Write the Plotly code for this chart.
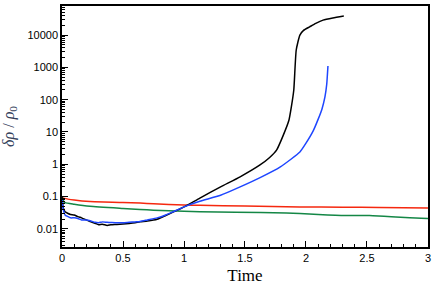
import plotly.graph_objects as go

# --- data ---
red_t = [0, 0.02, 0.1, 0.23, 0.5, 0.64, 0.75, 1.0, 1.13, 1.5, 1.95, 2.3, 2.6, 3.0]
red_v = [0.095, 0.088, 0.078, 0.07, 0.066, 0.063, 0.06, 0.055, 0.054, 0.051, 0.048, 0.047, 0.046, 0.044]

green_t = [0, 0.01, 0.025, 0.1, 0.23, 0.5, 0.64, 0.75, 1.0, 1.13, 1.42, 1.84, 1.95, 2.1, 2.32, 2.52, 2.7, 2.85, 3.0]
green_v = [0.1, 0.075, 0.065, 0.058, 0.05, 0.043, 0.04, 0.038, 0.035, 0.034, 0.033, 0.031, 0.030, 0.028,
           0.026, 0.026, 0.024, 0.022, 0.021]

black_t = [0, 0.01, 0.025, 0.05, 0.07, 0.1, 0.13, 0.16, 0.2, 0.23, 0.27, 0.3, 0.33, 0.37, 0.4, 0.45,
           0.5, 0.55, 0.6, 0.64, 0.7, 0.78, 0.85, 0.91, 1.01, 1.13, 1.3, 1.46, 1.62, 1.7, 1.76, 1.81,
           1.86, 1.88, 1.9, 1.92, 1.95, 1.98, 2.03, 2.08, 2.14, 2.22, 2.31]
black_v = [0.1, 0.045, 0.034, 0.03, 0.028, 0.027, 0.024, 0.022, 0.019, 0.017, 0.015, 0.0135, 0.014,
           0.0128, 0.0134, 0.0138, 0.0143, 0.0148, 0.0155, 0.0165, 0.0175, 0.02, 0.026, 0.033, 0.05,
           0.09, 0.2, 0.41, 0.94, 1.6, 2.8, 7.3, 23, 60, 200, 3450, 10000, 14000, 18000, 23000, 29000,
           34000, 39000]

blue_t = [0, 0.01, 0.025, 0.05, 0.07, 0.1, 0.13, 0.16, 0.2, 0.23, 0.27, 0.3, 0.33, 0.37, 0.4, 0.45,
          0.5, 0.55, 0.6, 0.64, 0.7, 0.78, 0.85, 0.91, 1.01, 1.13, 1.3, 1.46, 1.62, 1.79, 1.95, 2.0,
          2.06, 2.1, 2.13, 2.155, 2.17, 2.18]
blue_v = [0.09, 0.04, 0.027, 0.024, 0.022, 0.022, 0.021, 0.019, 0.019, 0.018, 0.016, 0.0155, 0.0165,
          0.016, 0.0158, 0.0155, 0.0155, 0.016, 0.0165, 0.017, 0.019, 0.022, 0.027, 0.034, 0.05, 0.072,
          0.11, 0.2, 0.38, 0.83, 2.4, 4.5, 11, 25, 50, 120, 300, 1100]

y_tickvals = [0.01, 0.1, 1, 10, 100, 1000, 10000]
y_ticktext = ["0.01", "0.1", "1", "10", "100", "1000", "10000"]
x_tickvals = [0, 0.5, 1, 1.5, 2, 2.5, 3]
x_ticktext = ["0", "0.5", "1", "1.5", "2", "2.5", "3"]

series = [
    (red_t, red_v, "rgb(245,40,15)"),
    (green_t, green_v, "rgb(20,135,70)"),
    (black_t, black_v, "black"),
    (blue_t, blue_v, "rgb(30,70,255)"),
]

fig = go.Figure()
for t, v, c in series:
    fig.add_trace(go.Scatter(x=t, y=v, mode="lines", line=dict(color=c, width=1.5, shape="spline", smoothing=0.5),
                             showlegend=False, hoverinfo="skip"))

minor_y = []
for e in range(-3, 5):
    for m in range(2, 10):
        minor_y.append(m * 10 ** e)

tickfont = dict(family="Liberation Sans, Arial, sans-serif", size=11, color="black")

fig.update_layout(
    width=436, height=299,
    margin=dict(l=62, r=8, t=6, b=52, autoexpand=False),
    paper_bgcolor="white", plot_bgcolor="white",
    xaxis=dict(
        range=[0, 3.0001], tickvals=x_tickvals, ticktext=x_ticktext, automargin=False,
        ticks="inside", ticklen=6, tickwidth=1, tickcolor="black",
        minor=dict(ticks="inside", ticklen=3, tickcolor="black", dtick=0.1, tick0=0),
        showline=True, linecolor="black", linewidth=1.5, mirror=True,
        showgrid=False, zeroline=False, tickfont=tickfont,
        title=dict(text="Time", font=dict(family="Liberation Serif, Times New Roman, serif", size=17, color="black"),
                   standoff=6),
    ),
    yaxis=dict(
        type="log", range=[-2.56, 4.9], tickvals=y_tickvals, ticktext=y_ticktext, automargin=False,
        ticks="inside", ticklen=6, tickwidth=1, tickcolor="black",
        minor=dict(ticks="inside", ticklen=3, tickcolor="black", tickvals=minor_y),
        showline=True, linecolor="black", linewidth=1.5, mirror=True,
        showgrid=False, zeroline=False, tickfont=tickfont,
        title=dict(text="<i>δρ</i> / <i>ρ</i><sub>0</sub>",
                   font=dict(family="Liberation Serif, Times New Roman, serif", size=16, color="#33405a"),
                   standoff=10),
    ),
)

fig.write_html("out.html", config={"displayModeBar": False},
               post_script="document.body.style.margin='0';document.body.style.overflow='hidden';")
